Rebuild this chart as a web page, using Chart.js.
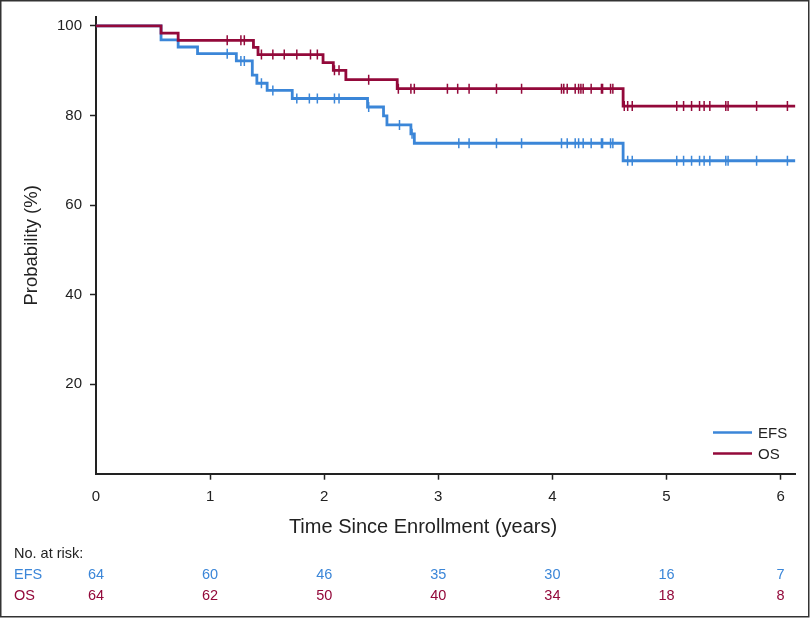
<!DOCTYPE html>
<html lang="en">
<head>
<meta charset="UTF-8">
<title>EFS and OS</title>
<script src="https://cdn.jsdelivr.net/npm/chart.js@4.4.1/dist/chart.umd.min.js"></script>
<style>
    body {
        margin: 0;
        background: #fff;
    }
    #wrap {
        width: 810px;
        height: 618px;
    }
</style>
</head>
<body>
<div id="wrap">
    <canvas id="km" width="810" height="618"></canvas>
</div>

<script>
    // Kaplan-Meier steps (years, %)
    const efsTimes = [0, 0.57, 0.72, 0.89, 1.23, 1.37, 1.41, 1.50, 1.72, 2.38, 2.52, 2.55, 2.76, 2.79, 4.62, 6.13];
    const efsValues = [100, 96.9, 95.3, 93.8, 92.2, 89.0, 87.2, 85.6, 83.8, 81.9, 79.9, 77.9, 75.9, 73.8, 69.9, 69.9];
    const efsCensored = [1.15, 1.27, 1.30, 1.45, 1.55, 1.76, 1.87, 1.94, 2.09, 2.13, 2.39, 2.66, 2.77, 3.18, 3.27,
        3.51, 3.73, 4.08, 4.13, 4.20, 4.23, 4.27, 4.34, 4.43, 4.44, 4.51, 4.53, 4.66, 4.70, 5.09, 5.15, 5.22, 5.29,
        5.33, 5.38, 5.52, 5.54, 5.79, 6.06];

    const osTimes = [0, 0.57, 0.72, 1.38, 1.42, 1.99, 2.08, 2.19, 2.64, 4.62, 6.13];
    const osValues = [100, 98.4, 96.8, 95.2, 93.6, 91.8, 90.1, 88.0, 86.0, 82.1, 82.1];
    const osCensored = [1.15, 1.27, 1.30, 1.45, 1.55, 1.65, 1.76, 1.88, 1.94, 2.09, 2.13, 2.39, 2.65, 2.76, 2.79,
        3.08, 3.17, 3.27, 3.51, 3.73, 4.08, 4.10, 4.13, 4.20, 4.23, 4.25, 4.27, 4.34, 4.43, 4.44, 4.51, 4.53, 4.63,
        4.66, 4.70, 5.09, 5.15, 5.22, 5.29, 5.33, 5.38, 5.52, 5.54, 5.79, 6.06];

    // number at risk table
    const riskTimes = [0, 1, 2, 3, 4, 5, 6];
    const efsAtRisk = [64, 60, 46, 35, 30, 16, 7];
    const osAtRisk = [64, 62, 50, 40, 34, 18, 8];

    const xTicks = [0, 1, 2, 3, 4, 5, 6];
    const yTicks = [20, 40, 60, 80, 100];

    const azul = '#3b86d8';
    const vinho = '#93093a';
    const tinta = '#222222';
    const fonte = "'Liberation Sans', Arial, sans-serif";

    function pontos(ts, vs) {
        return ts.map((t, i) => ({x: t, y: vs[i]}));
    }

    // value of the step curve at time t (for placing censor marks)
    function valorEm(ts, vs, t) {
        let v = vs[0];
        for (let i = 0; i < ts.length; i++) {
            if (ts[i] <= t) v = vs[i];
        }
        return v;
    }

    function censuras(ts, vs, cs) {
        return cs.map(t => ({x: t, y: valorEm(ts, vs, t)}));
    }

    const extras = {
        id: 'extras',
        afterDraw(chart) {
            const ctx = chart.ctx;
            const xs = chart.scales.x;
            ctx.save();

            // legend inside the plot
            const itens = [['EFS', azul, 432.5], ['OS', vinho, 453.5]];
            ctx.font = '15px ' + fonte;
            ctx.textBaseline = 'middle';
            ctx.textAlign = 'left';
            itens.forEach(([nome, cor, y]) => {
                ctx.strokeStyle = cor;
                ctx.lineWidth = 2.5;
                ctx.beginPath();
                ctx.moveTo(713, y);
                ctx.lineTo(752, y);
                ctx.stroke();
                ctx.fillStyle = tinta;
                ctx.fillText(nome, 758, y + 1);
            });

            // x axis title
            ctx.font = '20px ' + fonte;
            ctx.textAlign = 'center';
            ctx.fillStyle = tinta;
            ctx.fillText('Time Since Enrollment (years)', 423, 527);

            // number at risk
            ctx.font = '14.5px ' + fonte;
            ctx.textAlign = 'left';
            ctx.fillText('No. at risk:', 14, 554);
            ctx.fillStyle = azul;
            ctx.fillText('EFS', 14, 575);
            ctx.fillStyle = vinho;
            ctx.fillText('OS', 14, 596);
            ctx.textAlign = 'center';
            riskTimes.forEach((t, i) => {
                const px = xs.getPixelForValue(t);
                ctx.fillStyle = azul;
                ctx.fillText(String(efsAtRisk[i]), px, 575);
                ctx.fillStyle = vinho;
                ctx.fillText(String(osAtRisk[i]), px, 596);
            });

            // frame around the figure
            ctx.strokeStyle = '#333';
            ctx.lineWidth = 1.5;
            ctx.strokeRect(0.75, 0.75, 808, 616);
            ctx.restore();
        }
    };

    const semZero = c => (c.tick && c.tick.value === 0) ? 'rgba(0,0,0,0)' : tinta;

    new Chart(document.getElementById('km'), {
        type: 'line',
        data: {
            datasets: [
                {
                    label: 'OS', data: pontos(osTimes, osValues), borderColor: vinho, borderWidth: 2.8,
                    stepped: true, pointRadius: 0, fill: false, order: 0
                },
                {
                    label: 'OS censored', data: censuras(osTimes, osValues, osCensored), showLine: false,
                    pointStyle: 'line', rotation: 90, pointRadius: 5, pointBorderWidth: 1.5,
                    borderColor: vinho, backgroundColor: vinho, order: 0
                },
                {
                    label: 'EFS', data: pontos(efsTimes, efsValues), borderColor: azul, borderWidth: 2.8,
                    stepped: true, pointRadius: 0, fill: false, order: 1
                },
                {
                    label: 'EFS censored', data: censuras(efsTimes, efsValues, efsCensored), showLine: false,
                    pointStyle: 'line', rotation: 90, pointRadius: 5, pointBorderWidth: 1.5,
                    borderColor: azul, backgroundColor: azul, order: 1
                }
            ]
        },
        options: {
            responsive: false,
            animation: false,
            devicePixelRatio: 1,
            layout: {padding: {left: 0, top: 14.7, right: 14.6, bottom: 0}},
            plugins: {
                legend: {display: false},
                tooltip: {enabled: false}
            },
            scales: {
                x: {
                    type: 'linear',
                    min: 0,
                    max: 6.13,
                    afterBuildTicks: s => { s.ticks = xTicks.map(v => ({value: v})); },
                    afterFit: s => { s.height = 144.3; },
                    ticks: {color: tinta, font: {family: fonte, size: 15}, padding: 8},
                    grid: {drawOnChartArea: false, tickLength: 6, color: semZero, tickWidth: 1.5},
                    border: {color: tinta, width: 2}
                },
                y: {
                    min: 0,
                    max: 102,
                    afterBuildTicks: s => { s.ticks = yTicks.map(v => ({value: v})); },
                    afterFit: s => { s.width = 96; },
                    ticks: {color: tinta, font: {family: fonte, size: 15}, padding: 8},
                    grid: {drawOnChartArea: false, tickLength: 6, color: tinta, tickWidth: 1.5},
                    border: {color: tinta, width: 2},
                    title: {
                        display: true, text: 'Probability (%)', color: tinta,
                        font: {family: fonte, size: 18.5}, padding: {top: 21, bottom: 0}
                    }
                }
            }
        },
        plugins: [extras]
    });
</script>
</body>
</html>
